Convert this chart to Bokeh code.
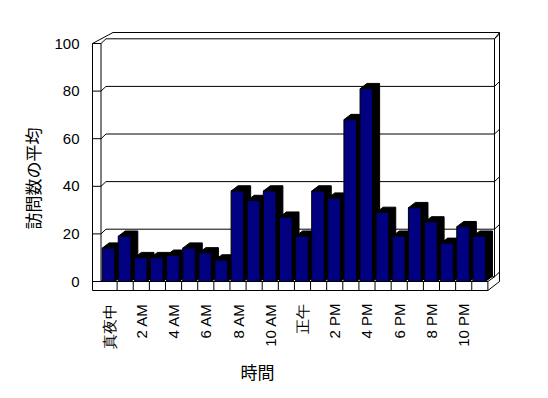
from math import pi
from bokeh.plotting import figure
from bokeh.models import Range1d, FixedTicker, Title
from bokeh.embed import file_html
from bokeh.resources import INLINE

# ---- data ----
hours = list(range(24))
visits = [14, 19, 10, 10, 11, 14, 12, 9, 38, 34, 38, 27,
          19, 38, 35, 68, 81, 29, 19, 31, 25, 16, 23, 19]
x_tick_labels = ["真夜中", "2 AM", "4 AM", "6 AM", "8 AM", "10 AM",
                 "正午", "2 PM", "4 PM", "6 PM", "8 PM", "10 PM"]
y_ticks = [0, 20, 40, 60, 80, 100]
x_title = "時間"
y_title = "訪問数の平均"

# ---- scale (pixels per data unit) ----
PXX = 16.12   # px per category
PXY = 2.38    # px per value unit

p = figure(frame_width=414, frame_height=264, output_backend="svg", toolbar_location=None,
           x_range=Range1d(-11.5 / PXX, 402.5 / PXX),
           y_range=Range1d(-12 / PXY, 252 / PXY),
           min_border_left=89, min_border_right=29,
           min_border_top=29, min_border_bottom=89)
p.outline_line_color = None
p.xgrid.visible = False
p.ygrid.visible = False
p.background_fill_color = "white"
p.border_fill_color = "white"

# ---- 3D box (walls & floor) ----
WL = -8.5 / PXX          # outer edge of left wall
WDX = 5 / PXX            # back wall depth offset
WDY = 4.7 / PXY
RO = 398.5 / PXX         # right outer line
RI = RO - WDX
FB = -9 / PXY            # floor front bottom
TOP = 100
TOPO = TOP + 11 / PXY
N = len(hours)

xs, ys = [], []
def seg(x0, y0, x1, y1):
    xs.append([x0, x1]); ys.append([y0, y1])

# gridlines along wall
for v in y_ticks:
    seg(WL, v, 0, v)
    seg(0, v, WDX, v + WDY)
    seg(WDX, v + WDY, RI, v + WDY)
    seg(RI, v + WDY, RO, v + WDY + 2.0)
# walls
seg(WL, FB, WL, TOP)
seg(0, 0, 0, TOP)
seg(WL, TOP, 12 / PXX, TOPO)
seg(12 / PXX, TOPO, RO, TOPO)
seg(RO, TOPO, RO, 0)
seg(RI, WDY, RI, TOP + WDY)
seg(RI, TOP + WDY, RO, TOPO)
# floor
seg(WL, FB, N, FB)
seg(0, 0, N, 0)
seg(N, FB, N, 0)
seg(N, FB, RO, 0)
seg(N, 0, RI, WDY)
for k in range(1, N):
    seg(k, FB, k, 0)
p.multi_line(xs, ys, line_color="black", line_width=1)

# ---- bars ----
BL, BR = 0.07, 0.85
BDX = 7 / PXX
BDY = 5.3 / PXY
px, py = [], []
for i, v in zip(hours, visits):
    l, r = i + BL, i + BR
    px.append([l, l + BDX, r + BDX, r + BDX, r, r])
    py.append([v, v + BDY, v + BDY, BDY, 0, v])
p.patches(px, py, fill_color="black", line_color="black")
p.quad(left=[h + BL for h in hours], right=[h + BR for h in hours],
       bottom=0, top=visits, fill_color="#000080", line_color="black", line_width=1)

# ---- axes ----
for ax in (p.xaxis, p.yaxis):
    ax.axis_line_color = None
    ax.major_tick_line_color = None
    ax.minor_tick_line_color = None
    ax.major_tick_out = 0
    ax.major_tick_in = 0
    ax.minor_tick_out = 0
    ax.major_label_standoff = 10
    ax.major_label_text_font = "Liberation Sans"
    ax.major_label_text_font_size = "15px"
    ax.major_label_text_color = "black"

p.yaxis.ticker = FixedTicker(ticks=y_ticks)

xt = [h + 0.5 for h in hours[::2]]
p.xaxis.ticker = FixedTicker(ticks=xt)
p.xaxis.major_label_overrides = {t: s for t, s in zip(xt, x_tick_labels)}
p.xaxis.major_label_orientation = pi / 2

p.add_layout(Title(text=x_title, align="left", offset=151, standoff=11,
                   text_font="Noto Sans CJK JP", text_font_size="17px",
                   text_font_style="normal", text_color="black"), "below")
p.add_layout(Title(text=y_title, align="left", offset=64, standoff=14,
                   text_font="Noto Sans CJK JP", text_font_size="17px",
                   text_font_style="normal", text_color="black"), "left")

open("out.html", "w").write(file_html(p, INLINE))
